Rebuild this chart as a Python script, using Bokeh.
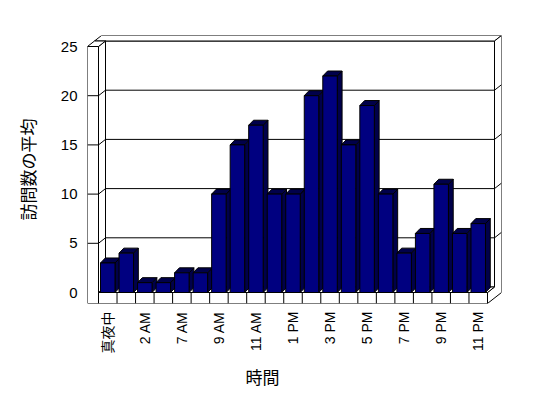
import math
from bokeh.plotting import figure
from bokeh.models import Range1d, FixedTicker, Title
from bokeh.embed import file_html
from bokeh.resources import INLINE

# ---- data ----
categories = ["真夜中", "1 AM", "2 AM", "6 AM", "7 AM", "8 AM", "9 AM", "10 AM", "11 AM", "正午",
              "1 PM", "2 PM", "3 PM", "4 PM", "5 PM", "6 PM", "7 PM", "8 PM", "9 PM", "10 PM", "11 PM"]
visits = [3, 4, 1, 1, 2, 2, 10, 15, 17, 10, 10, 20, 22, 15, 19, 10, 4, 6, 11, 6, 7]
y_ticks = [0, 5, 10, 15, 20, 25]
y_title = "訪問数の平均"
x_title = "時間"

# ---- layout (pixels) ----
SX = 389 / 21.0      # px per category
SY = 246 / 25.0      # px per unit
n = len(categories)
T = y_ticks[-1]
W = 11 / SX          # left wall thickness
F = 11 / SY          # floor thickness
dx, dy = 7 / SX, 5.5 / SY        # wall depth offset
bo, bw = 2 / SX, 14.5 / SX       # bar offset / width
bdx, bdy = 4.8 / SX, 5 / SY      # bar depth

FONT = "Liberation Sans, Noto Sans CJK JP"
NAVY = "#000080"
DARK = "#00004a"

p = figure(width=540, height=396, output_backend="svg", toolbar_location=None,
           x_range=Range1d(-W, n + 2 * dx), y_range=Range1d(-F, T + 2 * dy),
           min_border_left=87, min_border_right=39, min_border_top=35, min_border_bottom=93,
           title=None)
p.outline_line_color = None
p.xgrid.visible = False
p.ygrid.visible = False
p.background_fill_color = "white"
p.border_fill_color = "white"

# y axis
ya = p.yaxis[0]
ya.ticker = FixedTicker(ticks=y_ticks)
ya.axis_line_color = None
ya.major_tick_line_color = None
ya.minor_tick_line_color = None
ya.major_tick_out = 0
ya.major_tick_in = 0
ya.major_label_standoff = 10
ya.major_label_text_font = FONT
ya.major_label_text_font_size = "15px"
ya.major_label_text_color = "black"
ya.axis_label = y_title
ya.axis_label_text_font = "Noto Sans CJK JP"
ya.axis_label_text_font_size = "17px"
ya.axis_label_text_font_style = "normal"
ya.axis_label_text_color = "black"
ya.axis_label_standoff = 18

# x axis
xa = p.xaxis[0]
label_pos = [i + 0.5 for i in range(0, n, 2)]
xa.ticker = FixedTicker(ticks=label_pos)
xa.major_label_overrides = {i + 0.5: categories[i] for i in range(0, n, 2)}
xa.major_label_orientation = math.pi / 2
xa.axis_line_color = None
xa.major_tick_line_color = None
xa.minor_tick_line_color = None
xa.major_tick_out = 0
xa.major_tick_in = 0
xa.major_label_standoff = 8
xa.major_label_text_font = FONT
xa.major_label_text_font_size = "14px"
xa.major_label_text_color = "black"

# ---- 3D box ----
polys_x, polys_y = [], []
def poly(pts):
    polys_x.append([a for a, b in pts])
    polys_y.append([b for a, b in pts])

poly([(dx, dy), (n + dx, dy), (n + dx, T + dy), (dx, T + dy)])                       # back wall
poly([(-W + dx, T + dy), (-W + 2 * dx, T + 2 * dy), (n + 2 * dx, T + 2 * dy), (n + dx, T + dy)])  # back top
poly([(n, 0), (n + dx, dy), (n + dx, T + dy), (n + 2 * dx, T + 2 * dy),
      (n + 2 * dx, -F + 2 * dy), (n, -F)])                                            # right face
poly([(0, 0), (dx, dy), (n + dx, dy), (n, 0)])                                         # floor top
poly([(0, T), (dx, T + dy), (dx, dy), (0, 0)])                                         # left wall inner
poly([(-W, T), (0, T), (dx, T + dy), (-W + dx, T + dy)])                               # left wall top
poly([(-W, -F), (0, -F), (0, T), (-W, T)])                                             # left wall front
poly([(0, -F), (n, -F), (n, 0), (0, 0)])                                               # floor front
p.patches(polys_x, polys_y, fill_color="white", line_color="black", line_width=1)

# gridlines
gx, gy = [], []
for v in y_ticks[1:-1]:
    gx.append([-W, 0, dx, n + dx, n + 2 * dx])
    gy.append([v, v, v + dy, v + dy, v + 2 * dy])
p.multi_line(gx, gy, line_color="black", line_width=1)

# floor category ticks
p.segment(x0=list(range(1, n)), y0=[-F] * (n - 1), x1=list(range(1, n)), y1=[0] * (n - 1),
          line_color="black", line_width=1)

# ---- bars ----
sx_, sy_, tx_, ty_ = [], [], [], []
for i, v in enumerate(visits):
    xl, xr = i + bo, i + bo + bw
    sx_.append([xr, xr + bdx, xr + bdx, xr])
    sy_.append([0, bdy, v + bdy, v])
    tx_.append([xl, xr, xr + bdx, xl + bdx])
    ty_.append([v, v, v + bdy, v + bdy])
p.patches(sx_, sy_, fill_color=DARK, line_color="black", line_width=1)
p.patches(tx_, ty_, fill_color=DARK, line_color="black", line_width=1)
p.quad(left=[i + bo for i in range(n)], right=[i + bo + bw for i in range(n)],
       bottom=[0] * n, top=visits, fill_color=NAVY, line_color="black", line_width=1)

# x title (placed below the axis, shifted left like the reference)
p.add_layout(Title(text=x_title, align="left", offset=158, standoff=10,
                   text_font="Noto Sans CJK JP", text_font_size="17px",
                   text_font_style="normal", text_color="black"), "below")

open("out.html", "w").write(file_html(p, INLINE))
